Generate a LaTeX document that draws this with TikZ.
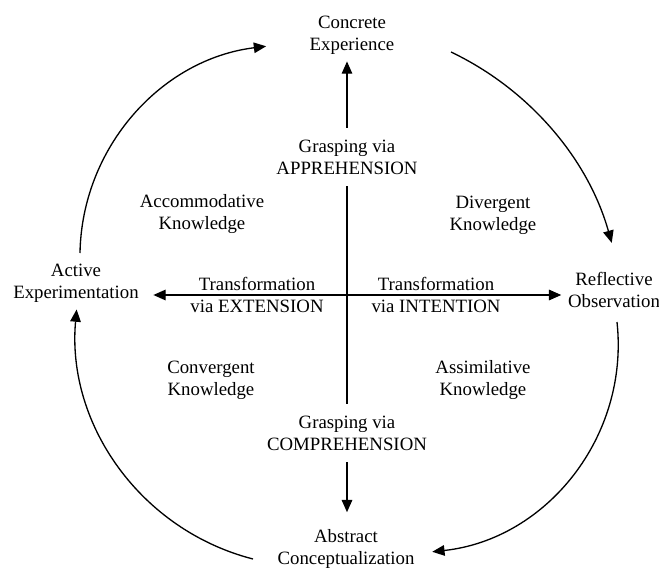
\documentclass[tikz,border=0pt]{standalone}
\usepackage{fontspec}
\setmainfont{Liberation Serif}
\usetikzlibrary{arrows.meta}

\begin{document}
\begin{tikzpicture}[>={Triangle[length=7pt,width=6pt]}, line width=0.75pt,
    every node/.style={align=center, font=\fontsize{10.7pt}{12.4pt}\selectfont},
    stage/.style={inner sep=3.5pt},
    grasp/.style={inner sep=6.5pt},
    quad/.style={inner sep=2pt}]
  \useasboundingbox (0,0) rectangle (13.18,11.36);

  % the four stages of the cycle
  \node[stage] (ce) at (7.04,10.65) {Concrete\\Experience};
  \node[stage] (ro) at (12.28,5.56) {Reflective\\Observation};
  \node[stage] (ac) at (6.92,0.38) {Abstract\\Conceptualization};
  \node[stage] (ae) at (1.52,5.70) {Active\\Experimentation};

  % labels on the two axes
  \node[grasp] (appr) at (6.94,8.22) {Grasping via\\APPREHENSION};
  \node[grasp] (comp) at (6.94,2.70) {Grasping via\\COMPREHENSION};
  \node[quad] (ext) at (5.14,5.46) {Transformation\\via EXTENSION};
  \node[quad] (int) at (8.72,5.46) {Transformation\\via INTENTION};

  % the four kinds of knowledge
  \node[quad] (acc) at (4.04,7.08) {Accommodative\\Knowledge};
  \node[quad] (div) at (9.86,7.06) {Divergent\\Knowledge};
  \node[quad] (conv) at (4.22,3.76) {Convergent\\Knowledge};
  \node[quad] (assim) at (9.66,3.76) {Assimilative\\Knowledge};

  % grasping axis
  \draw[->] (appr.north) -- (appr.north |- ce.south);
  \draw (appr.south) -- (comp.north);
  \draw[->,shorten >=6pt] (comp.south) -- (comp.south |- ac.north);

  % transformation axis
  \draw[<->,shorten <=4.5pt] (ae.east |- ext) -- (ro.west |- int);

  % outer cycle
  \coordinate (fromAE) at (1.60,6.30);
  \coordinate (fromCE) at (9.02,10.32);
  \coordinate (fromRO) at (12.34,4.92);
  \coordinate (fromAC) at (5.06,0.18);
  \draw[->] (fromAE) arc[start angle=179, end angle=97, radius=4.24];
  \draw[->] (fromCE) arc[start angle=64.5, end angle=15.7, radius=6.04];
  \draw[->] (fromRO) arc[start angle=6.2, end angle=-83.8, radius=4.17];
  \draw[->] (fromAC) arc[start angle=255.6, end angle=174.9, radius=4.72];
\end{tikzpicture}
\end{document}
